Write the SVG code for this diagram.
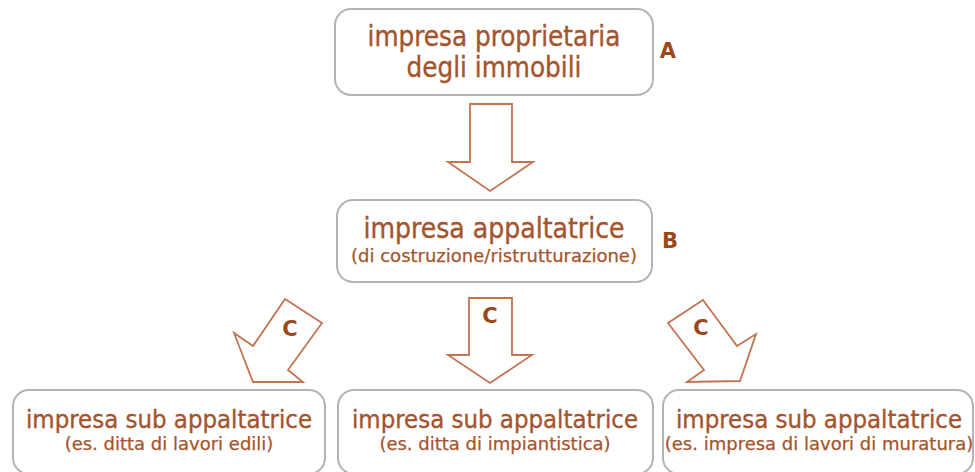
<svg xmlns="http://www.w3.org/2000/svg" width="975" height="472" viewBox="0 0 975 472">
<style>
.box{fill:#fff;stroke:#b4b4b4;stroke-width:2}
.arr{fill:#fff;stroke:#c27450;stroke-width:1.8;stroke-linejoin:miter}
.t1{font-family:"DejaVu Sans Condensed","DejaVu Sans",sans-serif;font-stretch:condensed;fill:#a4542d;stroke:#a4542d;stroke-width:0.35;text-anchor:middle}
.t2{font-family:"DejaVu Sans",sans-serif;font-size:18px;fill:#a4542d;stroke:#a4542d;stroke-width:0.25;text-anchor:middle}
.lbl{font-family:"DejaVu Sans",sans-serif;font-weight:bold;font-size:21px;fill:#9a471c;text-anchor:middle}
</style>
<rect width="975" height="472" fill="#fff"/>
<g id="connectors">
<polygon class="arr" points="470,104 512,104 512,162 533,162 490,191 448,162 470,162"/>
<polygon class="arr" points="469,298 512,298 512,355 532,355 490,383 448,355 469,355"/>
<polygon class="arr" points="285,299 322,323 288,370 303,382 253,382 234,333 253,346"/>
<polygon class="arr" points="703,300 737,346 756,334 740,381 687,382 704,370 668,323"/>
<text class="lbl" x="490" y="323">C</text>
<text class="lbl" x="290" y="336">C</text>
<text class="lbl" x="701" y="335">C</text>
</g>
<g id="nodeA">
<rect class="box" x="335" y="9" width="318" height="86" rx="16"/>
<text class="t1" x="494" y="46" font-size="27.5">impresa proprietaria</text>
<text class="t1" x="494" y="77" font-size="27.5">degli immobili</text>
<text class="lbl" x="668" y="58">A</text>
</g>
<g id="nodeB">
<rect class="box" x="337" y="200" width="315" height="82" rx="16"/>
<text class="t1" x="494" y="238" font-size="28">impresa appaltatrice</text>
<text class="t2" x="494" y="262">(di costruzione/ristrutturazione)</text>
<text class="lbl" x="670" y="248">B</text>
</g>
<g id="nodeC1">
<rect class="box" x="13" y="390" width="312" height="84" rx="16"/>
<text class="t1" x="169" y="428" font-size="25.5">impresa sub appaltatrice</text>
<text class="t2" x="169" y="450">(es. ditta di lavori edili)</text>
</g>
<g id="nodeC2">
<rect class="box" x="338" y="390" width="315" height="84" rx="16"/>
<text class="t1" x="495" y="428" font-size="25.5">impresa sub appaltatrice</text>
<text class="t2" x="495" y="450">(es. ditta di impiantistica)</text>
</g>
<g id="nodeC3">
<rect class="box" x="663" y="390" width="310" height="84" rx="16"/>
<text class="t1" x="819" y="428" font-size="25.5">impresa sub appaltatrice</text>
<text class="t2" x="819" y="450">(es. impresa di lavori di muratura)</text>
</g>
</svg>
